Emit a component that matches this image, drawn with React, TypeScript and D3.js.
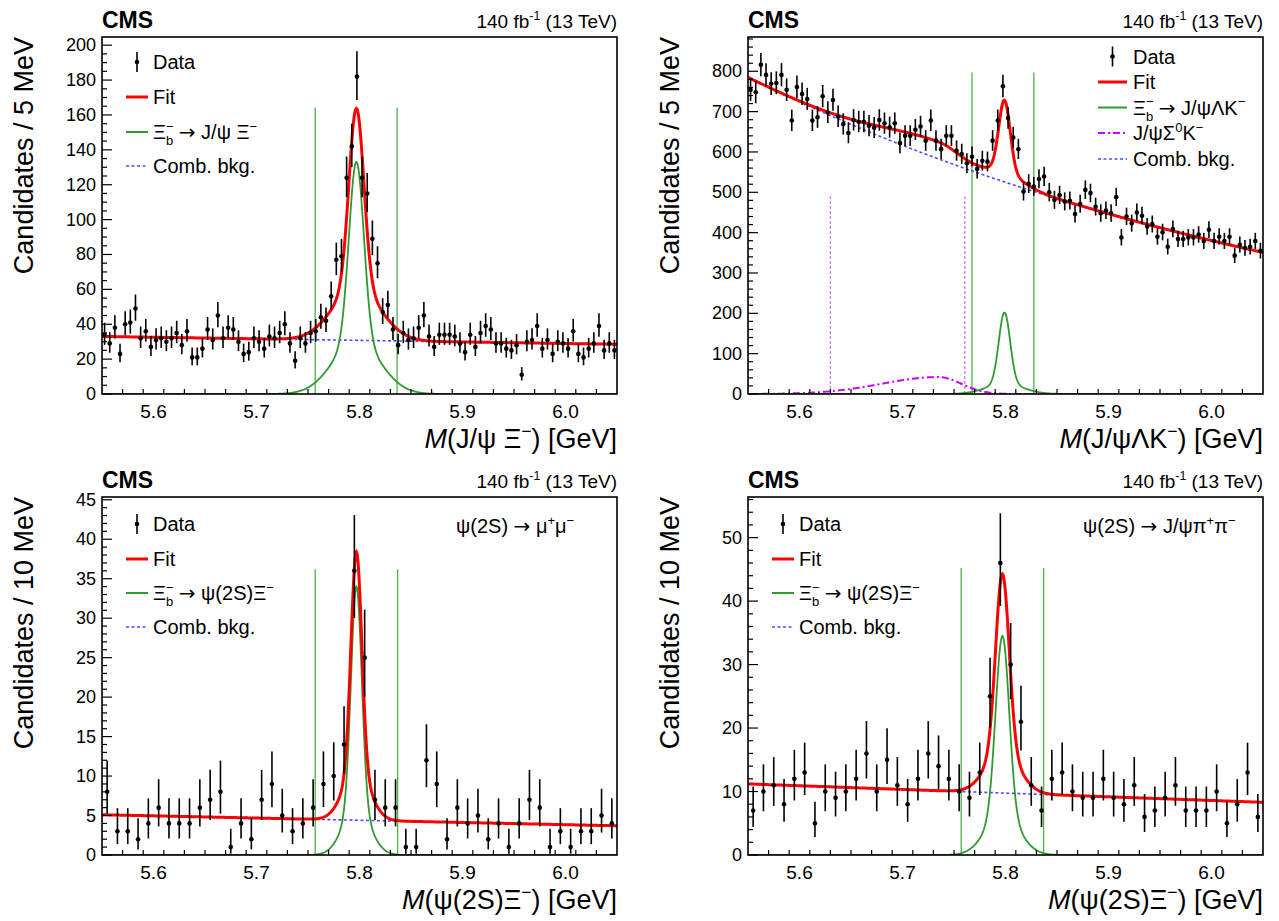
import React from 'react';
import * as d3 from 'd3';

const X_MIN = 5.55;
const X_MAX = 6.05;

// ---- Data (counts per bin) ----
const p1Counts = [
  34, 29, 38, 23, 40, 41, 49, 32, 36, 27,
  31, 32, 30, 32, 35, 28, 36, 21, 21, 26,
  37, 31, 45, 32, 38, 37, 30, 23, 24, 32,
  30, 26, 33, 32, 35, 40, 29, 19, 32, 29,
  35, 36, 44, 42, 56, 77, 79, 124, 142, 182,
  124, 115, 89, 75, 47, 51, 37, 28, 35, 31,
  32, 38, 45, 33, 27, 34, 34, 34, 33, 29,
  24, 34, 27, 35, 39, 37, 29, 29, 26, 25,
  28, 11, 30, 31, 39, 26, 31, 23, 30, 29,
  26, 36, 23, 21, 26, 29, 39, 25, 29, 25,
];
const p2Counts = [
  754, 748, 816, 791, 769, 771, 791, 754, 678, 761,
  744, 731, 678, 686, 738, 698, 729, 688, 669, 647,
  679, 675, 675, 665, 660, 679, 671, 661, 671, 622,
  640, 640, 655, 663, 628, 678, 628, 607, 640, 640,
  603, 595, 572, 588, 558, 578, 576, 628, 678, 763,
  684, 636, 607, 502, 521, 514, 533, 539, 500, 481,
  493, 477, 479, 446, 471, 506, 498, 464, 448, 455,
  448, 488, 388, 440, 423, 450, 442, 415, 421, 390,
  401, 365, 409, 384, 384, 388, 388, 395, 379, 407,
  379, 390, 379, 390, 343, 370, 362, 365, 379, 355,
];
const p3Counts = [
  8, 3, 3, 2, 4, 6, 4, 4, 4, 6,
  7, 8, 1, 4, 2, 7, 9, 5, 3, 4,
  6, 9, 10, 14, 36, 25, 7, 6, 6, 1,
  1, 12, 9, 2, 6, 4, 5, 2, 4, 1,
  4, 7, 6, 1, 3, 1, 3, 3, 5, 4,
];
const p4Counts = [
  7, 10, 11, 8, 12, 13, 5, 10, 9, 10,
  12, 16, 10, 15, 11, 8, 12, 16, 14, 12,
  10, 9, 13, 25, 46, 30, 21, 11, 7, 12,
  13, 10, 9, 9, 12, 9, 8, 11, 6, 7,
  9, 11, 7, 7, 7, 10, 5, 8, 13, 6,
];

// ---- Axis ticks ----
const xTickValues = [5.6, 5.7, 5.8, 5.9, 6.0];
const xTickLabels = ['5.6', '5.7', '5.8', '5.9', '6.0'];
const p1YTicks = [0, 20, 40, 60, 80, 100, 120, 140, 160, 180, 200];
const p2YTicks = [0, 100, 200, 300, 400, 500, 600, 700, 800];
const p3YTicks = [0, 5, 10, 15, 20, 25, 30, 35, 40, 45];
const p4YTicks = [0, 10, 20, 30, 40, 50];

// ---- Fit model parameters ----
const p1Bkg = { type: 'lin', v0: 33, v1: 28.5 };
const p1Sig = { m: 5.797, a1: 103, s1: 0.0072, a2: 30, s2: 0.023 };
const p2Bkg = { type: 'exp', v0: 785, slope: -1.61 };
const p2Sig = { m: 5.799, a1: 177, s1: 0.0055, a2: 25, s2: 0.018 };
const p2Part = { m: 5.735, h: 42, sl: 0.055, sr: 0.022 };
const p3Bkg = { type: 'lin', v0: 5.1, v1: 3.7 };
const p3Sig = { m: 5.797, a1: 28, s1: 0.0052, a2: 6, s2: 0.013 };
const p4Bkg = { type: 'lin', v0: 11.2, v1: 8.3 };
const p4Sig = { m: 5.797, a1: 28, s1: 0.0065, a2: 6.5, s2: 0.016 };

// signal-window markers
const p1Window = { xs: [5.757, 5.8365], top: 164.3 };
const p2Window = { xs: [5.7675, 5.8275], top: 797 };
const p2PartWindow = { xs: [5.63, 5.7605], top: 490 };
const p3Window = { xs: [5.757, 5.837], top: 36.2 };
const p4Window = { xs: [5.757, 5.837], top: 45.2 };

const FONT = '"Liberation Sans", Arial, Helvetica, sans-serif';
const ARROW_FONT = '"DejaVu Sans", sans-serif';
const RED = '#ff0000';
const GREEN = '#2f9a2f';
const GREEN_LINE = '#4fb04f';
const BLUE = '#4b4bff';
const MAGENTA = '#cc00ff';
const MAGENTA_LINE = '#c080ff';

type Seg = { t: string; k?: 'sup' | 'sub'; it?: boolean; dx?: number; f?: string };

function Rich({ segs, fs }: { segs: Seg[]; fs: number }) {
  let base = 0;
  return (
    <>
      {segs.map((s, i) => {
        const off = s.k === 'sup' ? -0.42 * fs : s.k === 'sub' ? 0.3 * fs : 0;
        const dy = off - base;
        base = off;
        return (
          <tspan
            key={i}
            dy={dy}
            dx={s.dx || 0}
            fontSize={s.k ? 0.65 * fs : fs}
            fontStyle={s.it ? 'italic' : 'normal'}
            fontFamily={s.f || undefined}
          >
            {s.t}
          </tspan>
        );
      })}
    </>
  );
}

const gauss = (x: number, m: number, s: number) => Math.exp(-0.5 * ((x - m) / s) ** 2);
const bkgVal = (b: any, x: number) =>
  b.type === 'lin'
    ? b.v0 + ((b.v1 - b.v0) * (x - X_MIN)) / (X_MAX - X_MIN)
    : b.v0 * Math.exp(b.slope * (x - X_MIN));
const sigVal = (s: any, x: number) => s.a1 * gauss(x, s.m, s.s1) + s.a2 * gauss(x, s.m, s.s2);
const partVal = (p: any, x: number) => (p ? p.h * gauss(x, p.m, x < p.m ? p.sl : p.sr) : 0);

// Gehrels approximation of Poisson 68% interval
const errUp = (n: number) => n + 1 + Math.sqrt(n + 0.75);
const errLo = (n: number) => (n > 0 ? n * Math.pow(1 - 1 / (9 * n) - 1 / (3 * Math.sqrt(n)), 3) : 0);

type LegendEntry = { kind: 'data' | 'line'; color?: string; width?: number; dash?: string; label: Seg[] };

const ARROW: Seg[] = [{ t: ' ' }, { t: '→', f: ARROW_FONT }, { t: ' ' }];

const sigLabel = (rest: string): Seg[] => [
  { t: 'Ξ' },
  { t: '−', k: 'sup' },
  { t: 'b', k: 'sub', dx: -7.6 },
  ...ARROW,
  { t: rest },
  { t: '−', k: 'sup' },
];

const panels = [
  {
    id: 'p1', left: 102, top: 37, width: 515, height: 357, yMax: 204.7, yTicks: p1YTicks, yMinor: 5,
    counts: p1Counts, bw: 0.005, bkg: p1Bkg, sig: p1Sig, part: null as any, win: p1Window, partWin: null as any,
    yTitle: 'Candidates / 5 MeV',
    xTitle: [{ t: 'M', it: true }, { t: '(J/ψ Ξ' }, { t: '−', k: 'sup' }, { t: ') [GeV]' }] as Seg[],
    legend: { x0: 126, x1: 148, tx: 153, rows: [62, 97, 132, 166] },
    entries: [
      { kind: 'data', label: [{ t: 'Data' }] },
      { kind: 'line', color: RED, width: 3, label: [{ t: 'Fit' }] },
      { kind: 'line', color: GREEN, width: 2, label: sigLabel('J/ψ Ξ') },
      { kind: 'line', color: BLUE, width: 1.6, dash: '3,2.5', label: [{ t: 'Comb. bkg.' }] },
    ] as LegendEntry[],
    note: null as Seg[] | null, noteX: 0,
  },
  {
    id: 'p2', left: 748, top: 37, width: 515, height: 357, yMax: 885, yTicks: p2YTicks, yMinor: 20,
    counts: p2Counts, bw: 0.005, bkg: p2Bkg, sig: p2Sig, part: p2Part, win: p2Window, partWin: p2PartWindow,
    yTitle: 'Candidates / 5 MeV',
    xTitle: [{ t: 'M', it: true }, { t: '(J/ψΛK' }, { t: '−', k: 'sup' }, { t: ') [GeV]' }] as Seg[],
    legend: { x0: 1098, x1: 1127, tx: 1133, rows: [56.5, 82, 107.5, 133, 159] },
    entries: [
      { kind: 'data', label: [{ t: 'Data' }] },
      { kind: 'line', color: RED, width: 3, label: [{ t: 'Fit' }] },
      { kind: 'line', color: GREEN, width: 2, label: sigLabel('J/ψΛK') },
      { kind: 'line', color: MAGENTA, width: 2, dash: '7,3,2,3', label: [{ t: 'J/ψΣ' }, { t: '0', k: 'sup' }, { t: 'K' }, { t: '−', k: 'sup' }] },
      { kind: 'line', color: BLUE, width: 1.6, dash: '3,2.5', label: [{ t: 'Comb. bkg.' }] },
    ] as LegendEntry[],
    note: null as Seg[] | null, noteX: 0,
  },
  {
    id: 'p3', left: 102, top: 497, width: 515, height: 358, yMax: 45.35, yTicks: p3YTicks, yMinor: 1,
    counts: p3Counts, bw: 0.01, bkg: p3Bkg, sig: p3Sig, part: null as any, win: p3Window, partWin: null as any,
    yTitle: 'Candidates / 10 MeV',
    xTitle: [{ t: 'M', it: true }, { t: '(ψ(2S)Ξ' }, { t: '−', k: 'sup' }, { t: ') [GeV]' }] as Seg[],
    legend: { x0: 126, x1: 148, tx: 153, rows: [524, 559, 593, 627] },
    entries: [
      { kind: 'data', label: [{ t: 'Data' }] },
      { kind: 'line', color: RED, width: 3, label: [{ t: 'Fit' }] },
      { kind: 'line', color: GREEN, width: 2, label: sigLabel('ψ(2S)Ξ') },
      { kind: 'line', color: BLUE, width: 1.6, dash: '3,2.5', label: [{ t: 'Comb. bkg.' }] },
    ] as LegendEntry[],
    note: [{ t: 'ψ(2S)' }, ...ARROW, { t: 'μ' }, { t: '+', k: 'sup' }, { t: 'μ' }, { t: '−', k: 'sup' }] as Seg[],
    noteX: 456,
  },
  {
    id: 'p4', left: 748, top: 497, width: 515, height: 358, yMax: 56.4, yTicks: p4YTicks, yMinor: 2,
    counts: p4Counts, bw: 0.01, bkg: p4Bkg, sig: p4Sig, part: null as any, win: p4Window, partWin: null as any,
    yTitle: 'Candidates / 10 MeV',
    xTitle: [{ t: 'M', it: true }, { t: '(ψ(2S)Ξ' }, { t: '−', k: 'sup' }, { t: ') [GeV]' }] as Seg[],
    legend: { x0: 772, x1: 794, tx: 799, rows: [524, 559, 593, 627] },
    entries: [
      { kind: 'data', label: [{ t: 'Data' }] },
      { kind: 'line', color: RED, width: 3, label: [{ t: 'Fit' }] },
      { kind: 'line', color: GREEN, width: 2, label: sigLabel('ψ(2S)Ξ') },
      { kind: 'line', color: BLUE, width: 1.6, dash: '3,2.5', label: [{ t: 'Comb. bkg.' }] },
    ] as LegendEntry[],
    note: [{ t: 'ψ(2S)' }, ...ARROW, { t: 'J/ψπ' }, { t: '+', k: 'sup' }, { t: 'π' }, { t: '−', k: 'sup' }] as Seg[],
    noteX: 1083,
  },
];

function Panel({ cfg }: { cfg: any }) {
  const bottom = cfg.top + cfg.height;
  const right = cfg.left + cfg.width;
  const x = d3.scaleLinear().domain([X_MIN, X_MAX]).range([cfg.left, right]);
  const y = d3.scaleLinear().domain([0, cfg.yMax]).range([bottom, cfg.top]);
  const grid = d3.range(0, 1001).map((i) => X_MIN + (i * (X_MAX - X_MIN)) / 1000);
  const line = d3
    .line<[number, number]>()
    .x((d) => x(d[0]))
    .y((d) => y(d[1]));
  const bkgPath = line(grid.map((g) => [g, bkgVal(cfg.bkg, g)]));
  const sigPath = line(grid.map((g) => [g, sigVal(cfg.sig, g)]));
  const partPath = cfg.part ? line(grid.map((g) => [g, partVal(cfg.part, g)])) : null;
  const fitPath = line(
    grid.map((g) => [g, bkgVal(cfg.bkg, g) + sigVal(cfg.sig, g) + partVal(cfg.part, g)])
  );
  const xMinor = d3.range(X_MIN, X_MAX + 1e-9, 0.02).map((v) => +v.toFixed(3));
  const xMinorF = xMinor.filter((v) => v >= X_MIN + 1e-6 && v <= X_MAX - 1e-6);
  const yMinor = d3.range(0, cfg.yMax + 1e-9, cfg.yMinor);
  const clipId = 'clip-' + cfg.id;
  const centers = cfg.counts.map((_: number, i: number) => X_MIN + (i + 0.5) * cfg.bw);
  const titleX = cfg.left - 69;
  const lg = cfg.legend;

  return (
    <g>
      <defs>
        <clipPath id={clipId}>
          <rect x={cfg.left} y={cfg.top} width={cfg.width} height={cfg.height} />
        </clipPath>
      </defs>
      {/* header */}
      <text x={cfg.left} y={cfg.top - 9} fontFamily={FONT} fontWeight="bold" fontSize={23}>
        CMS
      </text>
      <text x={right} y={cfg.top - 9} fontFamily={FONT} fontSize={19} textAnchor="end">
        <Rich segs={[{ t: '140 fb' }, { t: '-1', k: 'sup' }, { t: ' (13 TeV)' }]} fs={19} />
      </text>

      <g clipPath={`url(#${clipId})`}>
        {/* signal window lines */}
        {cfg.partWin &&
          cfg.partWin.xs.map((v: number, i: number) => (
            <line key={'pw' + i} x1={x(v)} x2={x(v)} y1={bottom} y2={y(cfg.partWin.top)}
              stroke={MAGENTA_LINE} strokeWidth={1.3} strokeDasharray="3,2" />
          ))}
        {cfg.win.xs.map((v: number, i: number) => (
          <line key={'w' + i} x1={x(v)} x2={x(v)} y1={bottom} y2={y(cfg.win.top)}
            stroke={GREEN_LINE} strokeWidth={1.3} />
        ))}
        <path d={bkgPath!} fill="none" stroke={BLUE} strokeWidth={1.6} strokeDasharray="3,2.5" />
        {partPath && (
          <path d={partPath} fill="none" stroke={MAGENTA} strokeWidth={2} strokeDasharray="7,3,2,3" />
        )}
        <path d={sigPath!} fill="none" stroke={GREEN} strokeWidth={1.8} />
        <path d={fitPath!} fill="none" stroke={RED} strokeWidth={3} />
      </g>

      {/* data */}
      <g>
        {cfg.counts.map((n: number, i: number) => {
          const cx = x(centers[i]);
          return (
            <g key={'d' + i}>
              <line x1={cx} x2={cx} y1={Math.max(y(errUp(n)), cfg.top)} y2={y(errLo(n))} stroke="#000" strokeWidth={1.6} />
              <circle cx={cx} cy={y(n)} r={2.3} fill="#000" />
            </g>
          );
        })}
      </g>

      {/* frame */}
      <rect x={cfg.left} y={cfg.top} width={cfg.width} height={cfg.height} fill="none" stroke="#000" strokeWidth={1.6} />

      {/* x ticks */}
      {xMinorF.map((v: number, i: number) => {
        const major = xTickValues.some((t) => Math.abs(t - v) < 1e-6);
        return (
          <line key={'xt' + i} x1={x(v)} x2={x(v)} y1={bottom} y2={bottom - (major ? 10 : 5)} stroke="#000" strokeWidth={1.2} />
        );
      })}
      {xTickValues.map((v, i) => (
        <text key={'xl' + i} x={x(v)} y={bottom + 24} fontFamily={FONT} fontSize={19} textAnchor="middle">
          {xTickLabels[i]}
        </text>
      ))}
      {/* y ticks */}
      {yMinor.map((v: number, i: number) => {
        const major = cfg.yTicks.some((t: number) => Math.abs(t - v) < 1e-6);
        return (
          <line key={'yt' + i} x1={cfg.left} x2={cfg.left + (major ? 10 : 5)} y1={y(v)} y2={y(v)} stroke="#000" strokeWidth={1.2} />
        );
      })}
      {cfg.yTicks.map((v: number, i: number) => (
        <text key={'yl' + i} x={cfg.left - 6} y={y(v) + 6} fontFamily={FONT} fontSize={18} textAnchor="end">
          {v}
        </text>
      ))}
      {/* axis titles */}
      <text transform={`translate(${titleX},${cfg.top}) rotate(-90)`} fontFamily={FONT} fontSize={27} textAnchor="end">
        {cfg.yTitle}
      </text>
      <text x={right} y={bottom + 54} fontFamily={FONT} fontSize={27} textAnchor="end">
        <Rich segs={cfg.xTitle} fs={27} />
      </text>

      {/* legend */}
      {cfg.entries.map((e: LegendEntry, i: number) => {
        const ry = lg.rows[i];
        const mx = (lg.x0 + lg.x1) / 2;
        return (
          <g key={'lg' + i}>
            {e.kind === 'data' ? (
              <g>
                <line x1={mx} x2={mx} y1={ry - 10} y2={ry + 10} stroke="#000" strokeWidth={1.6} />
                <circle cx={mx} cy={ry} r={2.3} fill="#000" />
              </g>
            ) : (
              <line x1={lg.x0} x2={lg.x1} y1={ry} y2={ry} stroke={e.color} strokeWidth={e.width} strokeDasharray={e.dash} />
            )}
            <text x={lg.tx} y={ry + 7} fontFamily={FONT} fontSize={20}>
              <Rich segs={e.label} fs={20} />
            </text>
          </g>
        );
      })}
      {cfg.note && (
        <text x={cfg.noteX} y={cfg.top + 36} fontFamily={FONT} fontSize={20}>
          <Rich segs={cfg.note} fs={20} />
        </text>
      )}
    </g>
  );
}

export default function App() {
  return (
    <svg
      width={1279}
      height={921}
      viewBox="0 0 1279 921"
      style={{ position: 'absolute', left: 0, top: 0, background: '#fff' }}
    >
      <rect x={0} y={0} width={1279} height={921} fill="#fff" />
      {panels.map((p) => (
        <Panel key={p.id} cfg={p} />
      ))}
    </svg>
  );
}
